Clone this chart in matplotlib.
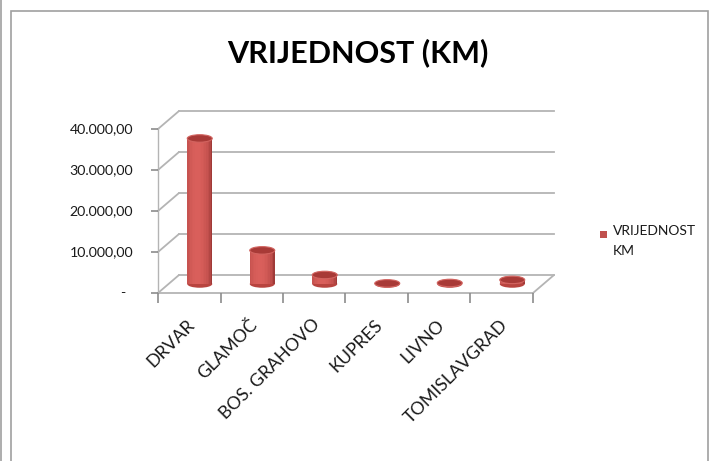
import numpy as np
import matplotlib
matplotlib.use("Agg")
import matplotlib.pyplot as plt
import matplotlib.markers as mmarkers
from matplotlib.patches import Ellipse, Rectangle, ConnectionPatch
from matplotlib.transforms import ScaledTranslation

plt.rcParams["font.family"] = ["Lato", "DejaVu Sans"]

categories = ["DRVAR", "GLAMOČ", "BOS. GRAHOVO", "KUPRES", "LIVNO", "TOMISLAVGRAD"]
values = [35500, 8200, 2200, 150, 250, 1000]
y_ticks = [0, 10000, 20000, 30000, 40000]
y_tick_labels = ["-", "10.000,00", "20.000,00", "30.000,00", "40.000,00"]
title = "VRIJEDNOST (KM)"
series_name = "VRIJEDNOST\nKM"

W, H, DPI = 713, 461, 100
fig = plt.figure(figsize=(W / DPI, H / DPI), dpi=DPI)

# front plane of the 3D box, in pixels
left, right, bottom, top = 158, 533, 293, 129
ax = fig.add_axes([left / W, 1 - bottom / H, (right - left) / W, (bottom - top) / H])
ax.set_xlim(-0.5, len(categories) - 0.5)
ax.set_ylim(0, 40000)
ax.axis("off")

grid_col = "#b4b4b4"
depth_x, depth_y = 21, 18  # px offset of the back wall


def shifted(dx, dy):
    return ax.transData + ScaledTranslation(dx / DPI, dy / DPI, fig.dpi_scale_trans)


front = ax.transData
back = shifted(depth_x, depth_y)
mid = shifted(depth_x / 2, depth_y / 2)

x0, x1 = -0.5, len(categories) - 0.5

# back wall gridlines + left wall diagonals
for v in y_ticks:
    ax.plot([x0, x1], [v, v], color=grid_col, lw=1.3, transform=back, clip_on=False, zorder=1)
    ax.add_artist(ConnectionPatch((x0, v), (x0, v), coordsA=front, coordsB=back,
                                  color=grid_col, lw=1.3, zorder=1))
# right edge of the floor
ax.add_artist(ConnectionPatch((x1, 0), (x1, 0), coordsA=front, coordsB=back,
                              color=grid_col, lw=1.3, zorder=1))

# front axes lines and ticks
ax.plot([x0, x1], [0, 0], color=grid_col, lw=1.3, clip_on=False, zorder=2)
ax.plot([x0, x0], [0, 40000], color=grid_col, lw=1.0, clip_on=False, zorder=2)
ax.plot(np.arange(len(categories) + 1) - 0.5, np.zeros(len(categories) + 1), ls="none",
        marker=mmarkers.TICKDOWN, ms=7, mew=1.2, color="#8c8c8c", clip_on=False)
ax.plot([x0] * len(y_ticks), y_ticks, ls="none", marker=mmarkers.TICKLEFT, ms=5,
        mew=1.2, color="#8c8c8c", clip_on=False)

# y labels
for v, lab in zip(y_ticks, y_tick_labels):
    off = -33 if lab == "-" else -25
    ax.text(x0, v, lab, transform=front + ScaledTranslation(off / DPI, 0, fig.dpi_scale_trans),
            ha="right", va="center", fontsize=10.2, color="#1a1a1a")

# category labels
for i, lab in enumerate(categories):
    ax.text(i, 0, lab, transform=front + ScaledTranslation(3 / DPI, -29 / DPI, fig.dpi_scale_trans),
            ha="right", va="center", rotation=45, rotation_mode="anchor",
            fontsize=12.8, color="#1a1a1a")

# cylinders
bar_w = 0.4
n_strips = 16
px_per_unit = ax.transData.transform((0, 1))[1] - ax.transData.transform((0, 0))[1]
ell_h = 7.5 / px_per_unit
dark = np.array([0x8a, 0x2c, 0x2a]) / 255
light = np.array([0xd9, 0x5f, 0x5b]) / 255
t = np.linspace(-1, 1, n_strips)
shade = np.clip(1 - ((t + 0.2) / 1.25) ** 2, 0, 1) ** 0.5
strip_cols = [dark + (light - dark) * s for s in shade]
sw = bar_w / n_strips
offs = np.linspace(-bar_w / 2 + sw / 2, bar_w / 2 - sw / 2, n_strips)

for i, v in enumerate(values):
    ax.add_patch(Ellipse((i, 0), bar_w, ell_h, transform=mid, facecolor="#b8443f",
                         edgecolor="none", zorder=3))
    for o, c in zip(offs, strip_cols):
        ax.bar(i + o, v, width=sw * 1.08, color=c, linewidth=0, transform=mid, zorder=4)
    ax.add_patch(Ellipse((i, v), bar_w, ell_h, transform=mid, facecolor="#a83a37",
                         edgecolor="#d26460", lw=0.8, zorder=5))

# title
fig.text(358 / W, 1 - 53 / H, title, ha="center", va="center", fontsize=22,
         fontweight="bold", color="#000000")

# legend (square + two-line label)
fig.patches.append(Rectangle((600 / W, 1 - 238 / H), 7 / W, 7 / H, transform=fig.transFigure,
                             facecolor="#c0504d", edgecolor="none"))
fig.text(613 / W, 1 - 225 / H, series_name, ha="left", va="top", fontsize=10,
         linespacing=1.75, color="#1a1a1a")

# chart frame
fig.patches.append(Rectangle((10.5 / W, -0.1), (708 - 10.5) / W, 1.1 - 11.5 / H,
                             transform=fig.transFigure, fill=False, edgecolor="#a0a0a0", lw=1.2))
fig.add_artist(plt.Line2D([0.5 / W, 0.5 / W], [0, 1], transform=fig.transFigure,
                          color="#a0a0a0", lw=1.2))

fig.savefig("out.png", dpi=DPI)
